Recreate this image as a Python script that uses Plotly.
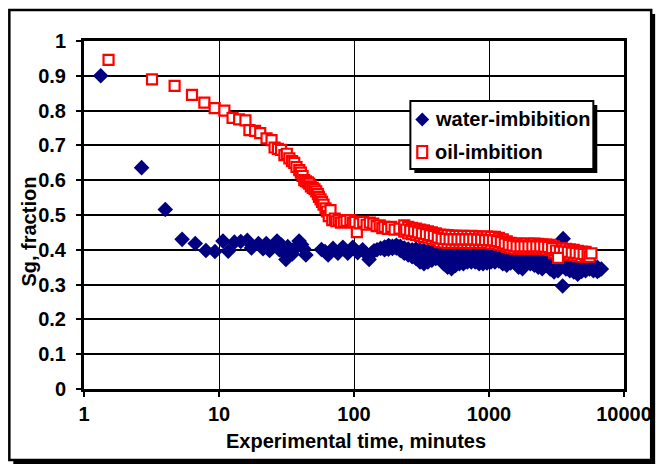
import plotly.graph_objects as go

# ---------------- data ----------------
water_time = [1.33, 2.67, 4.0, 5.33, 6.67, 8.0, 9.33, 10.7, 11.7, 13.0, 14.5, 16.2, 17.4, 19.6, 21.2,
              22.4, 23.7, 25.3, 26.9, 28.0, 29.0, 30.3, 31.3, 32.3, 33.6, 34.9, 36.5, 38.0, 39.2, 40.8,
              42.3, 44.0,
              57.4, 61.0, 64.3, 69.9, 76.0, 82.7, 89.9, 97.9, 106.4, 115.8, 122.0, 129.4, 135.0, 140.7,
              148.0, 157.4,
              168.4, 168.4, 180.1, 180.1, 192.6, 192.6, 206.0, 206.0, 220.3, 220.3, 235.6, 235.6,
              252.0, 252.0, 269.5, 269.5, 288.3, 288.3, 308.3, 308.3, 329.7, 329.7, 352.7, 352.7,
              377.2, 377.2, 403.4, 403.4, 431.5, 431.5, 461.5, 461.5, 493.6, 493.6, 527.9, 527.9,
              564.6, 564.6, 603.9, 603.9, 645.9, 645.9, 690.8, 690.8, 738.9, 738.9, 790.3, 790.3,
              845.3, 845.3, 904.1, 904.1, 966.9, 966.9, 1034, 1034, 1106, 1106, 1183, 1183,
              1265, 1265, 1353, 1353, 1447, 1447, 1548, 1548, 1656, 1656, 1771, 1771,
              1894, 1894, 2026, 2026, 2167, 2167, 2317, 2317, 2479, 2479, 2651, 2651,
              2836, 2836, 3033, 3033, 3243, 3243, 3469, 3540, 3510, 3710, 3710, 3968, 3968,
              4244, 4244, 4539, 4539, 4855, 4855, 5193, 5193, 5554, 5554, 5940, 5940,
              6354, 6354, 6796]
water_sg = [0.900, 0.636, 0.516, 0.430, 0.418, 0.398, 0.395, 0.425, 0.396, 0.422, 0.424, 0.427, 0.405, 0.418, 0.403,
            0.418, 0.398, 0.410, 0.425, 0.400, 0.414, 0.392, 0.372, 0.409, 0.395, 0.388, 0.405, 0.410, 0.425, 0.415,
            0.404, 0.385,
            0.401, 0.395, 0.385, 0.404, 0.390, 0.407, 0.390, 0.407, 0.392, 0.400, 0.390, 0.372, 0.390, 0.397,
            0.400, 0.404,
            0.408, 0.400, 0.412, 0.402, 0.410, 0.404, 0.413, 0.405, 0.410, 0.398, 0.405, 0.390,
            0.402, 0.385, 0.400, 0.380, 0.402, 0.375, 0.400, 0.365, 0.398, 0.360, 0.396, 0.365,
            0.398, 0.370, 0.395, 0.375, 0.395, 0.375, 0.392, 0.360, 0.392, 0.350, 0.388, 0.346,
            0.390, 0.355, 0.388, 0.360, 0.390, 0.360, 0.385, 0.365, 0.388, 0.365, 0.385, 0.365,
            0.388, 0.360, 0.385, 0.360, 0.386, 0.362, 0.384, 0.365, 0.388, 0.365, 0.384, 0.368,
            0.386, 0.360, 0.382, 0.356, 0.385, 0.362, 0.382, 0.365, 0.384, 0.350, 0.380, 0.346,
            0.382, 0.362, 0.378, 0.360, 0.380, 0.356, 0.376, 0.350, 0.378, 0.346, 0.375, 0.356,
            0.372, 0.345, 0.375, 0.336, 0.370, 0.340, 0.360, 0.432, 0.296, 0.370, 0.345, 0.365, 0.340,
            0.370, 0.336, 0.362, 0.330, 0.365, 0.338, 0.360, 0.340, 0.360, 0.345, 0.355, 0.340,
            0.350, 0.338, 0.345]
# additional readings in the dense late part of the water band
water_time_dense = [174.1, 186.2, 199.2, 213.0, 227.9, 243.7, 260.7, 278.8, 298.2, 318.9, 341.1, 364.8,
                    390.1, 417.3, 446.3, 477.4, 510.5, 546.1, 584.0, 624.6, 668.1, 714.5, 764.2, 817.4,
                    874.3, 935.0, 1000, 1070, 1144, 1224, 1309, 1400, 1497, 1601, 1713, 1832,
                    1959, 2095, 2241, 2397, 2564, 2742, 2933, 3136, 3354, 3587, 3837, 4104,
                    4389, 4694, 5021, 5370, 5743, 6142, 6570]
water_sg_dense = [0.405, 0.408, 0.408, 0.408, 0.402, 0.396, 0.392, 0.390, 0.386, 0.380, 0.378, 0.380,
                  0.384, 0.385, 0.380, 0.372, 0.366, 0.370, 0.372, 0.374, 0.372, 0.376, 0.375, 0.374,
                  0.372, 0.372, 0.373, 0.375, 0.376, 0.375, 0.370, 0.370, 0.372, 0.370, 0.364, 0.365,
                  0.370, 0.368, 0.364, 0.362, 0.362, 0.360, 0.356, 0.354, 0.355, 0.356, 0.354, 0.352,
                  0.348, 0.350, 0.350, 0.352, 0.348, 0.345, 0.342]

oil_time = [1.52, 3.19, 4.69, 6.31, 7.79, 9.29, 10.96, 12.6, 14.1, 15.7, 16.8, 18.5, 20.2, 22.5, 24.5,
            25.8, 27.3, 28.8, 30.5, 31.8, 33.2, 34.8, 36.1, 37.5, 39.3, 40.4, 41.6, 42.8, 44.0, 45.5,
            46.6, 47.9, 49.5, 51.0, 52.5, 54.0, 55.0, 56.5, 58.0, 59.5, 61.5, 63.0, 65.0, 67.0, 69.0,
            72.0, 74.0, 77.0, 80.0, 84.0, 88.0, 94.0, 98.0, 102.0, 105.0, 110.0, 117.0, 124.0, 131.0,
            139.0, 147.0, 155.0, 162.0, 168.0, 178.0, 189.0, 200.0, 217.0,
            235.6, 235.6, 252.0, 252.0, 269.5, 269.5, 288.3, 288.3, 308.3, 308.3, 329.7, 329.7,
            352.7, 352.7, 377.2, 377.2, 403.4, 403.4, 431.5, 431.5, 461.5, 461.5, 493.6, 493.6,
            527.9, 527.9, 564.6, 564.6, 603.9, 603.9, 645.9, 645.9, 690.8, 690.8, 738.9, 738.9,
            790.3, 790.3, 845.3, 845.3, 904.1, 904.1, 966.9, 966.9, 1034, 1034, 1106, 1106,
            1183, 1183, 1265, 1265, 1353, 1353, 1447, 1447, 1548, 1548, 1656, 1656,
            1771, 1771, 1894, 1894, 2026, 2026, 2167, 2167, 2317, 2317, 2479, 2479,
            2651, 2651, 2836, 2836, 3033, 3033, 3469, 3469, 3710, 3710, 3968, 3968,
            4244, 4244, 4539, 4539, 4855, 4855, 5193, 5193]
oil_sg = [0.946, 0.890, 0.871, 0.845, 0.823, 0.807, 0.800, 0.779, 0.775, 0.772, 0.744, 0.742, 0.735, 0.720, 0.715,
          0.694, 0.690, 0.687, 0.672, 0.676, 0.663, 0.655, 0.650, 0.638, 0.629, 0.622, 0.612, 0.600, 0.597, 0.594,
          0.590, 0.582, 0.578, 0.574, 0.568, 0.560, 0.552, 0.545, 0.538, 0.530, 0.519, 0.510, 0.497, 0.514, 0.485,
          0.490, 0.482, 0.485, 0.478, 0.480, 0.483, 0.485, 0.478, 0.480, 0.451, 0.476, 0.480, 0.472, 0.478,
          0.475, 0.468, 0.470, 0.462, 0.466, 0.460, 0.466, 0.458, 0.461,
          0.470, 0.452, 0.466, 0.447, 0.463, 0.445, 0.461, 0.443, 0.458, 0.440, 0.456, 0.437,
          0.453, 0.435, 0.450, 0.432, 0.447, 0.428, 0.444, 0.422, 0.443, 0.421, 0.442, 0.420,
          0.441, 0.420, 0.440, 0.420, 0.440, 0.421, 0.440, 0.420, 0.439, 0.420, 0.440, 0.419,
          0.439, 0.420, 0.438, 0.420, 0.438, 0.419, 0.438, 0.420, 0.437, 0.418, 0.437, 0.418,
          0.434, 0.415, 0.430, 0.412, 0.424, 0.408, 0.420, 0.405, 0.418, 0.403, 0.418, 0.404,
          0.417, 0.403, 0.418, 0.403, 0.417, 0.404, 0.418, 0.403, 0.417, 0.402, 0.416, 0.403,
          0.415, 0.401, 0.414, 0.400, 0.410, 0.392, 0.404, 0.385, 0.403, 0.386, 0.401, 0.385,
          0.400, 0.384, 0.397, 0.382, 0.395, 0.380, 0.394, 0.381]
# additional readings in the dense late part of the oil band (drawn last)
oil_time_dense = [243.7, 260.7, 278.8, 298.2, 318.9, 341.1, 364.8, 390.1, 417.3, 446.3, 477.4, 510.5,
                  546.1, 584.0, 624.6, 668.1, 714.5, 764.2, 817.4, 874.3, 935.0, 1000, 1070, 1144,
                  1224, 1309, 1400, 1497, 1601, 1713, 1832, 1959, 2095, 2241, 2397, 2564,
                  2742, 2933, 3136, 3354, 3587, 3837, 4104, 4389, 4694, 5021, 5370, 3243, 5554, 5740]
oil_sg_dense = [0.458, 0.455, 0.453, 0.450, 0.447, 0.445, 0.442, 0.440, 0.435, 0.432, 0.431, 0.430,
                0.430, 0.430, 0.430, 0.430, 0.430, 0.430, 0.429, 0.429, 0.428, 0.428, 0.427, 0.425,
                0.422, 0.418, 0.414, 0.412, 0.410, 0.410, 0.410, 0.410, 0.410, 0.410, 0.410, 0.409,
                0.408, 0.405, 0.398, 0.395, 0.395, 0.394, 0.392, 0.391, 0.389, 0.388, 0.386, 0.377,
                0.380, 0.390]

x_tickvals = [1, 10, 100, 1000, 10000]
x_ticktext = ["1", "10", "100", "1000", "10000"]
water_name = "water-imbibition"
oil_name = "oil-imbition"

# ---------------- layout geometry (pixels) ----------------
W_FIG, H_FIG = 664, 466
L, R, T, B = 84, 34, 41, 77
PW, PH = W_FIG - L - R, H_FIG - T - B
BOTTOM = H_FIG - B


def px(x):
    return (x - L) / PW


def py(y):
    return (BOTTOM - y) / PH


FONT = "Liberation Sans, Arial, sans-serif"
FS = 20
NAVY = "#000080"
RED = "#FF0000"

fig = go.Figure()
fig.add_trace(go.Scatter(x=water_time + water_time_dense, y=water_sg + water_sg_dense,
                         mode="markers", name=water_name,
                         marker=dict(symbol="diamond", size=12, color=NAVY, line=dict(width=0)),
                         showlegend=False))
fig.add_trace(go.Scatter(x=oil_time + oil_time_dense, y=oil_sg + oil_sg_dense,
                         mode="markers", name=oil_name,
                         marker=dict(symbol="square", size=10, color="white",
                                     line=dict(color=RED, width=2.2)),
                         showlegend=False))

shapes = []
# outer chart frame with shadow
fx0, fy0, fx1, fy1 = 8.5, 10, 657.5, 460
shapes.append(dict(type="rect", xref="paper", yref="paper", layer="below",
                   x0=px(fx0 + 4), x1=px(fx1 + 4), y0=py(fy0 + 4), y1=py(fy1 + 4),
                   fillcolor="black", line=dict(width=0)))
shapes.append(dict(type="rect", xref="paper", yref="paper", layer="below",
                   x0=px(fx0), x1=px(fx1), y0=py(fy0), y1=py(fy1),
                   fillcolor="white", line=dict(color="black", width=2.5)))
# legend box with shadow
lx0, ly0, lx1, ly1 = 414, 101, 599, 169
shapes.append(dict(type="rect", xref="paper", yref="paper", layer="above",
                   x0=px(lx0 + 4), x1=px(lx1 + 4), y0=py(ly0 + 4), y1=py(ly1 + 4),
                   fillcolor="black", line=dict(width=0)))
shapes.append(dict(type="rect", xref="paper", yref="paper", layer="above",
                   x0=px(lx0), x1=px(lx1), y0=py(ly0), y1=py(ly1),
                   fillcolor="white", line=dict(color="black", width=2)))
# legend keys
cx, cy1, cy2 = 426, 119.5, 152
d = 7
shapes.append(dict(type="path", xref="paper", yref="paper", layer="above",
                   path=f"M {px(cx - d)},{py(cy1)} L {px(cx)},{py(cy1 - d)} L {px(cx + d)},{py(cy1)} "
                        f"L {px(cx)},{py(cy1 + d)} Z",
                   fillcolor=NAVY, line=dict(width=0)))
shapes.append(dict(type="rect", xref="paper", yref="paper", layer="above",
                   x0=px(cx - 5), x1=px(cx + 5), y0=py(cy2 - 6), y1=py(cy2 + 6),
                   fillcolor="white", line=dict(color=RED, width=2.2)))

tfont = dict(size=FS, family=FONT, color="black", weight="bold")
annotations = [
    dict(text=water_name, x=px(437), y=py(cy1), xref="paper", yref="paper", xanchor="left",
         yanchor="middle", showarrow=False, font=tfont),
    dict(text=oil_name, x=px(437), y=py(cy2), xref="paper", yref="paper", xanchor="left",
         yanchor="middle", showarrow=False, font=tfont),
    dict(text="Experimental time, minutes", x=px(359), y=py(441), xref="paper", yref="paper",
         xanchor="center", yanchor="middle", showarrow=False, font=tfont),
    dict(text="Sg, fraction", x=px(28), y=py(232), xref="paper", yref="paper", textangle=-90,
         xanchor="center", yanchor="middle", showarrow=False, font=tfont),
]

fig.update_layout(
    width=W_FIG, height=H_FIG, autosize=False,
    margin=dict(l=L, r=R, t=T, b=B, pad=0),
    paper_bgcolor="white", plot_bgcolor="rgba(0,0,0,0)",
    font=dict(family=FONT, size=FS, color="black", weight="bold"),
    shapes=shapes, annotations=annotations, showlegend=False,
    xaxis=dict(type="log", range=[0, 4], tickvals=x_tickvals, ticktext=x_ticktext,
               showgrid=True, gridcolor="black", gridwidth=1, zeroline=False,
               showline=True, linecolor="black", linewidth=3, mirror=True,
               ticks="outside", ticklen=5, tickwidth=2, tickcolor="black",
               ticklabelstandoff=0, tickfont=dict(size=FS, family=FONT, weight="bold")),
    yaxis=dict(range=[0, 1], dtick=0.1, tick0=0,
               showgrid=True, gridcolor="black", gridwidth=2, zeroline=False,
               showline=True, linecolor="black", linewidth=3, mirror=True,
               ticks="outside", ticklen=5, tickwidth=2, tickcolor="black",
               ticklabelstandoff=6, tickfont=dict(size=FS, family=FONT, weight="bold")),
)

fig.write_html("out.html")
